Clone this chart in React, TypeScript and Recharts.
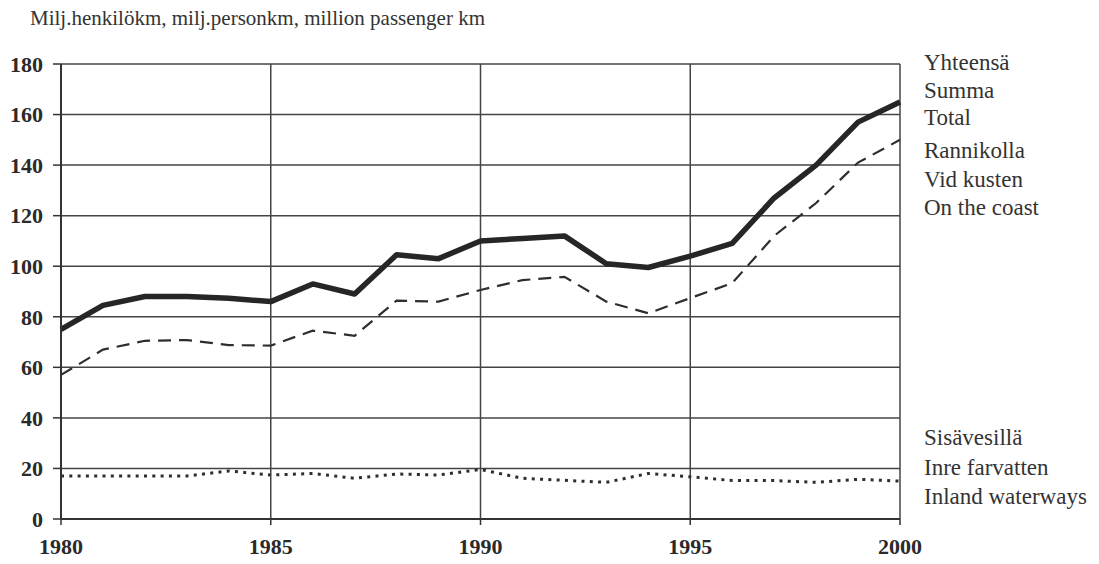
import React from 'react';
import { LineChart, Line, XAxis, YAxis, CartesianGrid } from 'recharts';

const years = [1980, 1981, 1982, 1983, 1984, 1985, 1986, 1987, 1988, 1989, 1990, 1991, 1992, 1993, 1994, 1995, 1996, 1997, 1998, 1999, 2000];
const total = [75, 84.5, 88, 88, 87.3, 86, 93, 89, 104.5, 103, 110, 111, 112, 101, 99.5, 104, 109, 127, 140, 157, 165];
const coast = [57, 67, 70.5, 70.8, 68.8, 68.6, 74.5, 72.5, 86.4, 86, 90.6, 94.5, 95.8, 86, 81.4, 87.4, 93.3, 112, 125, 141, 150];
const inland = [17, 17, 17, 17, 19, 17.4, 18, 16.1, 17.8, 17.4, 19.6, 16.1, 15.3, 14.5, 18, 16.7, 15.2, 15.2, 14.5, 15.7, 15];
const xTicks = [1980, 1985, 1990, 1995, 2000];
const yTicks = [0, 20, 40, 60, 80, 100, 120, 140, 160, 180];
const title = 'Milj.henkilökm, milj.personkm, million passenger km';
const totalLabels = ['Yhteensä', 'Summa', 'Total'];
const coastLabels = ['Rannikolla', 'Vid kusten', 'On the coast'];
const inlandLabels = ['Sisävesillä', 'Inre farvatten', 'Inland waterways'];

const data = years.map((y, i) => ({ year: y, total: total[i], coast: coast[i], inland: inland[i] }));

const serif = '"Liberation Serif", "Times New Roman", serif';
const ink = '#333';

const tickStyle = { fontFamily: serif, fontWeight: 700, fontSize: 22, fill: '#2a2a2a' };

const labelStyle = (top: number, lh: number): React.CSSProperties => ({
  position: 'absolute',
  left: 924,
  top,
  fontFamily: serif,
  fontSize: 23,
  color: '#333',
  lineHeight: `${lh}px`,
  whiteSpace: 'nowrap',
});

export default function App() {
  return (
    <div style={{ position: 'absolute', left: 0, top: 0, width: 1099, height: 564, background: '#fff', overflow: 'hidden' }}>
      <LineChart width={1099} height={564} data={data} margin={{ top: 64, right: 199, bottom: 0, left: 0 }}>
        <CartesianGrid stroke="#444" strokeWidth={1.5} />
        <XAxis
          dataKey="year"
          type="number"
          domain={[1980, 2000]}
          ticks={xTicks}
          height={45}
          tick={tickStyle}
          tickLine={{ stroke: ink, strokeWidth: 1.5 }}
          tickSize={6}
          axisLine={{ stroke: ink, strokeWidth: 2 }}
          interval={0}
          tickMargin={13}
        />
        <YAxis
          type="number"
          domain={[0, 180]}
          ticks={yTicks}
          width={61}
          tick={tickStyle}
          tickLine={{ stroke: ink, strokeWidth: 1.5 }}
          tickSize={8}
          axisLine={{ stroke: ink, strokeWidth: 2 }}
          interval={0}
          tickMargin={10}
        />
        <Line dataKey="total" stroke="#262626" strokeWidth={5.5} dot={false} isAnimationActive={false} strokeLinejoin="round" />
        <Line dataKey="coast" stroke="#2e2e2e" strokeWidth={2.2} strokeDasharray="13 8" dot={false} isAnimationActive={false} />
        <Line dataKey="inland" stroke="#2e2e2e" strokeWidth={3} strokeDasharray="3 5.3" dot={false} isAnimationActive={false} />
      </LineChart>
      <div style={{ position: 'absolute', left: 30, top: 6, fontFamily: serif, fontSize: 21, color: '#333', whiteSpace: 'nowrap' }}>{title}</div>
      <div style={labelStyle(49, 27.5)}>{totalLabels.map((t) => <div key={t}>{t}</div>)}</div>
      <div style={labelStyle(137, 28.5)}>{coastLabels.map((t) => <div key={t}>{t}</div>)}</div>
      <div style={labelStyle(423, 29.5)}>{inlandLabels.map((t) => <div key={t}>{t}</div>)}</div>
    </div>
  );
}
